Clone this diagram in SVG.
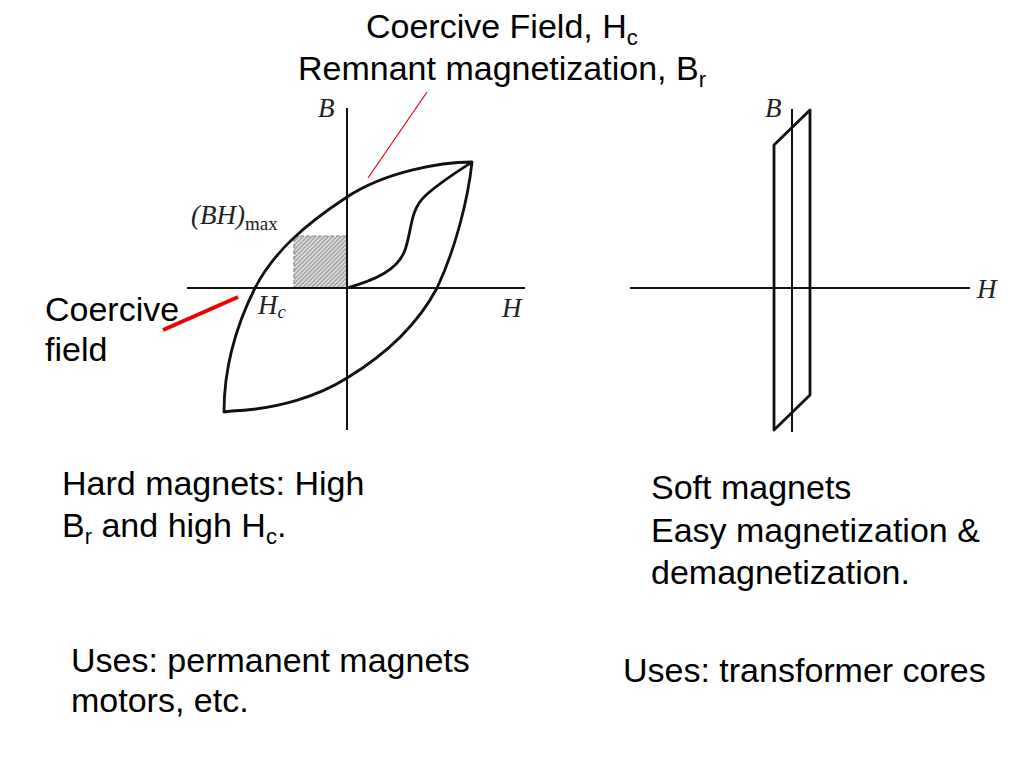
<svg xmlns="http://www.w3.org/2000/svg" width="1024" height="768" viewBox="0 0 1024 768">
<style>
.t{font-family:"Liberation Sans",Arial,sans-serif;font-size:34px;fill:#000}
.sub{font-size:22px}
.g{font-family:"Liberation Serif","Times New Roman",serif;font-style:italic;font-size:27px;fill:#222}
.ax{stroke:#111;stroke-width:2;fill:none}
.cv{stroke:#111;stroke-width:2.8;fill:none;stroke-linejoin:round}
</style>
<defs>
<pattern id="hatch" patternUnits="userSpaceOnUse" width="3" height="3" patternTransform="rotate(45)">
<rect width="3" height="3" fill="#d8d8d8"/>
<line x1="0" y1="0" x2="0" y2="3" stroke="#666" stroke-width="1.2"/>
</pattern>
</defs>
<rect width="1024" height="768" fill="#fff"/>

<g id="hard-loop">
<rect x="294" y="236" width="53" height="52" fill="url(#hatch)" stroke="#888" stroke-width="1.2" stroke-dasharray="4,2"/>
<line class="ax" x1="187" y1="288" x2="525" y2="288"/>
<line class="ax" x1="347" y1="108" x2="347" y2="430"/>
<path class="cv" d="M472,162 C440,162 385,172 347,197 C301,227 272,255 255,288 C235,328 224,370 224,412 L232,411 C280,409 320,395 347,378 C390,352 420,320 437,288 C455,250 468,200 472,162 Z"/>
<path class="cv" d="M347,288 C375,280 398,270 405,250 C412,230 410,210 425,196 C440,182 460,170 472,162"/>
<text class="g" x="318" y="117">B</text>
<text class="g" x="502" y="317">H</text>
<text class="g" x="258" y="314">H<tspan font-size="19" dy="4">c</tspan></text>
<text class="g" x="191" y="224" font-size="25">(BH)<tspan font-style="normal" font-size="19" dy="6">max</tspan></text>
</g>

<g id="soft-loop">
<line class="ax" x1="630" y1="288" x2="970" y2="288"/>
<line class="ax" x1="792" y1="109" x2="792" y2="432"/>
<path class="cv" d="M774,145 L810,110 L810,395 L774,430 Z"/>
<text class="g" x="765" y="117">B</text>
<text class="g" x="977" y="298">H</text>
</g>

<g id="connectors">
<line x1="427" y1="92" x2="368" y2="178" stroke="#e00" stroke-width="1.2"/>
<line x1="163" y1="330" x2="238" y2="297" stroke="#e00" stroke-width="4"/>
</g>

<g id="labels">
<text class="t" x="366" y="38">Coercive Field, H<tspan class="sub" dy="7">c</tspan></text>
<text class="t" x="298" y="80">Remnant magnetization, B<tspan class="sub" dy="7">r</tspan></text>
<text class="t" x="45" y="321">Coercive</text>
<text class="t" x="45" y="361">field</text>
<text class="t" x="62" y="495">Hard magnets: High</text>
<text class="t" x="62" y="537">B<tspan class="sub" dy="7">r</tspan><tspan dy="-7"> and high H</tspan><tspan class="sub" dy="7">c</tspan><tspan dy="-7">.</tspan></text>
<text class="t" x="71" y="672">Uses: permanent magnets</text>
<text class="t" x="71" y="712">motors, etc.</text>
<text class="t" x="651" y="499">Soft magnets</text>
<text class="t" x="651" y="542">Easy magnetization &amp;</text>
<text class="t" x="651" y="584">demagnetization.</text>
<text class="t" x="623" y="682">Uses: transformer cores</text>
</g>
</svg>
